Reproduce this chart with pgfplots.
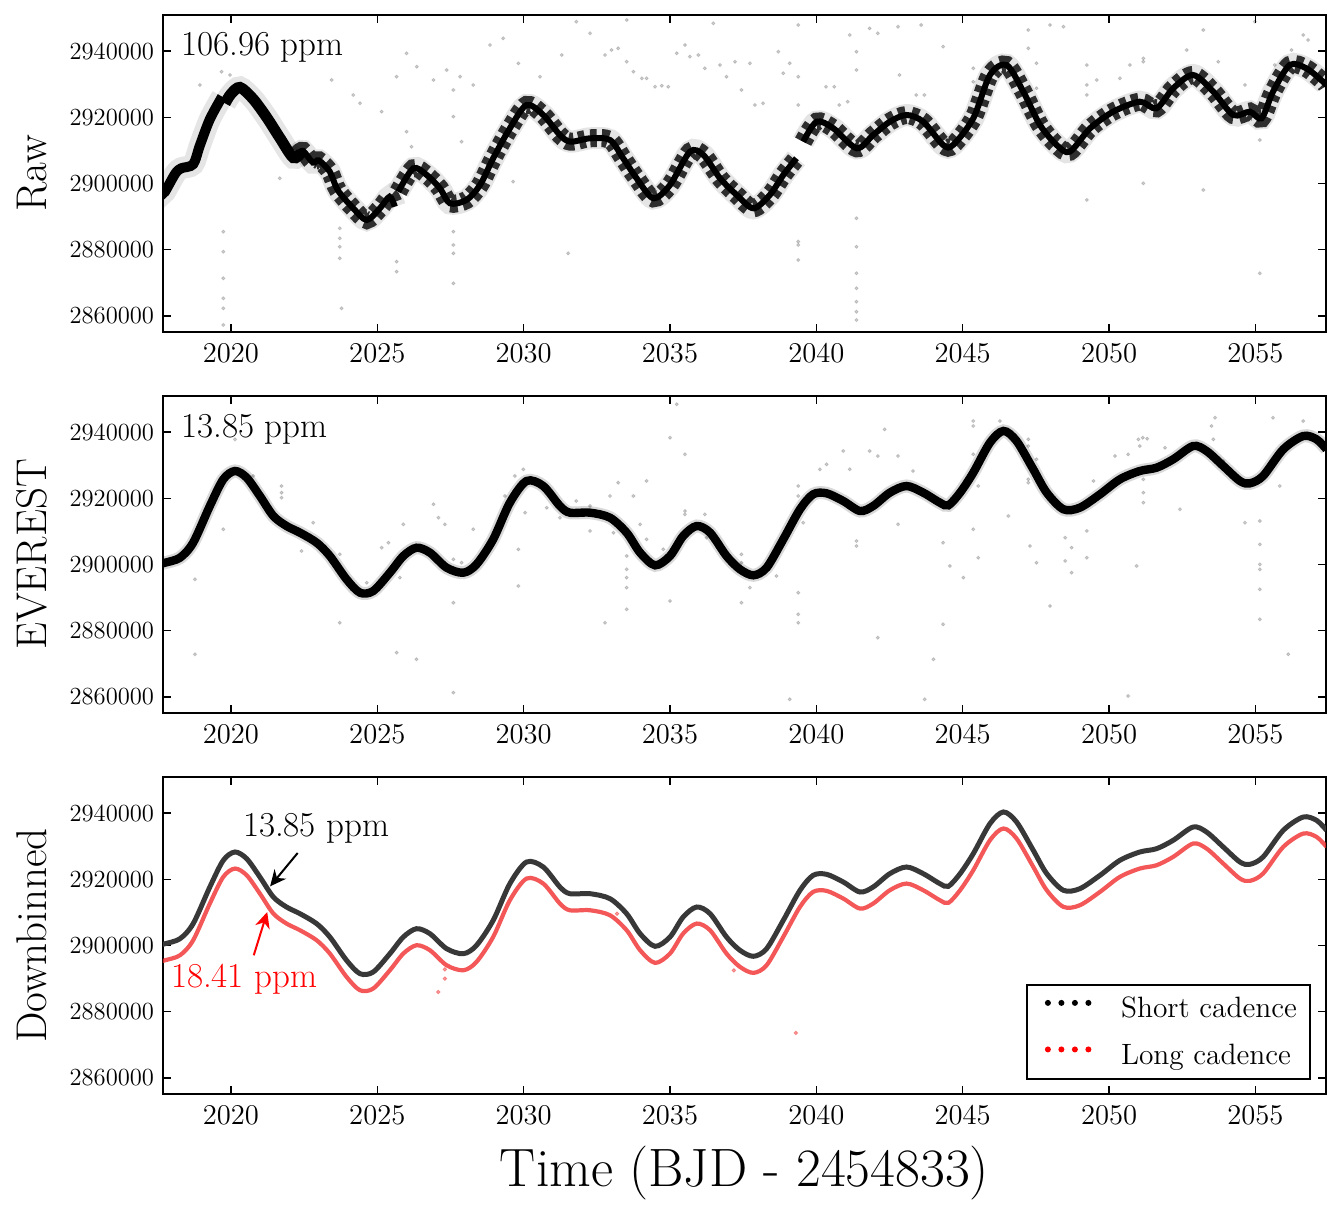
\documentclass[border=0pt]{standalone}
\usepackage{pgfplots}
\usepackage{pgfplotstable}
\pgfplotsset{compat=1.18}
\usetikzlibrary{arrows.meta}

\definecolor{lcred}{RGB}{240,45,45}

\pgfplotstableread{
t v
2017.68 2900400
2017.75 2900540
2018.26 2902050
2018.71 2906580
2019.28 2917660
2019.74 2925720
2020.14 2928230
2020.54 2926200
2020.99 2920680
2021.45 2914640
2021.90 2911620
2022.36 2909600
2022.93 2906580
2023.38 2902570
2023.95 2895530
2024.41 2891490
2024.86 2892000
2025.43 2897520
2025.89 2902570
2026.34 2905070
2026.80 2903560
2027.37 2899030
2027.94 2897520
2028.39 2900050
2028.96 2907600
2029.53 2918670
2030.10 2925210
2030.67 2923700
2031.24 2917660
2031.58 2915640
2032.27 2915640
2032.95 2914130
2033.52 2909600
2033.98 2903560
2034.49 2899750
2035.00 2902570
2035.45 2908610
2035.91 2911620
2036.37 2909600
2036.93 2902570
2037.39 2898550
2037.85 2896740
2038.30 2899030
2038.87 2907600
2039.44 2916660
2039.89 2921190
2040.35 2921490
2040.92 2919170
2041.49 2916150
2041.94 2917660
2042.51 2921690
2043.08 2923700
2043.65 2921690
2044.22 2918670
2044.51 2917870
2044.91 2921690
2045.36 2927720
2045.93 2936780
2046.39 2940320
2046.84 2937280
2047.41 2928740
2047.87 2921690
2048.44 2916660
2049.00 2917150
2049.69 2921190
2050.37 2925720
2051.05 2928230
2051.62 2929220
2052.19 2931760
2052.87 2935770
2053.33 2934260
2053.90 2929740
2054.47 2925210
2054.81 2924510
2055.26 2926720
2055.95 2934760
2056.63 2938780
2057.09 2937770
2057.43 2934760
}\everest

\pgfplotstableread{
t v
2017.68 2895400
2017.75 2895540
2018.26 2897050
2018.71 2901580
2019.28 2912660
2019.74 2920720
2020.14 2923230
2020.54 2921200
2020.99 2915680
2021.45 2909640
2021.90 2906620
2022.36 2904600
2022.93 2901580
2023.38 2897570
2023.95 2890530
2024.41 2886490
2024.86 2887000
2025.43 2892520
2025.89 2897570
2026.34 2900070
2026.80 2898560
2027.37 2894030
2027.94 2892520
2028.39 2895050
2028.96 2902600
2029.53 2913670
2030.10 2920210
2030.67 2918700
2031.24 2912660
2031.58 2910640
2032.27 2910640
2032.95 2909130
2033.52 2904600
2033.98 2898560
2034.49 2894750
2035.00 2897570
2035.45 2903610
2035.91 2906620
2036.37 2904600
2036.93 2897570
2037.39 2893550
2037.85 2891740
2038.30 2894030
2038.87 2902600
2039.44 2911660
2039.89 2916190
2040.35 2916490
2040.92 2914170
2041.49 2911150
2041.94 2912660
2042.51 2916690
2043.08 2918700
2043.65 2916690
2044.22 2913670
2044.51 2912870
2044.91 2916690
2045.36 2922720
2045.93 2931780
2046.39 2935320
2046.84 2932280
2047.41 2923740
2047.87 2916690
2048.44 2911660
2049.00 2912150
2049.69 2916190
2050.37 2920720
2051.05 2923230
2051.62 2924220
2052.19 2926760
2052.87 2930770
2053.33 2929260
2053.90 2924740
2054.47 2920210
2054.81 2919510
2055.26 2921720
2055.95 2929760
2056.63 2933780
2057.09 2932770
2057.43 2929760
}\longcad

\pgfplotstableread{
t v
2017.68 2897200
2017.75 2897530
2018.10 2903000
2018.30 2904580
2018.71 2905800
2018.94 2911500
2019.28 2919400
2019.70 2926200
}\rawA

\pgfplotstableread{
t v
2019.80 2924200
2020.00 2927000
2020.31 2929000
2020.76 2925500
2021.22 2920000
2021.67 2913800
2022.13 2907800
2022.40 2909300
}\rawB

\pgfplotstableread{
t v
2022.30 2909000
2022.47 2909800
2022.80 2906300
2023.00 2907000
2023.38 2903560
2023.65 2898000
2024.18 2892510
2024.64 2888980
2025.09 2892510
2025.42 2896000
2025.60 2893000
}\rawBz

\pgfplotstableread{
t v
2025.72 2897530
2026.23 2904580
2026.69 2902570
2027.14 2898550
2027.48 2894020
2028.05 2895030
2028.51 2899550
2028.96 2907610
2029.53 2916660
2030.10 2923700
2030.67 2920680
2031.24 2914640
2031.60 2912620
2032.27 2913640
2032.95 2913140
2033.40 2907610
2033.86 2901570
2034.43 2895530
2035.00 2899550
2035.68 2909600
2036.14 2908600
2036.71 2901570
2037.28 2896530
2037.85 2892510
2038.41 2896530
2038.87 2902570
2039.32 2907610
}\rawC

\pgfplotstableread{
t v
2039.55 2912620
2040.01 2918660
2040.58 2916660
2041.38 2910630
2041.94 2914640
2042.51 2918660
2043.08 2920680
2043.65 2918660
2044.33 2911620
2044.67 2911620
2045.36 2919680
2045.93 2932750
2046.50 2935770
2047.07 2927720
2047.64 2917660
2048.21 2911620
2048.66 2909600
2049.35 2916660
2050.14 2921690
2051.05 2924700
2051.62 2922700
2052.19 2928740
2052.87 2932750
2053.56 2927720
2054.24 2920680
2054.81 2921690
2055.21 2919680
2055.60 2927720
2056.17 2935770
2056.74 2934760
2057.31 2930730
2057.43 2929500
}\rawD

\pgfplotstableread{
t v
2019.74 2885450
2019.74 2879410
2019.74 2871380
2019.74 2865340
2019.74 2862320
2019.74 2857300
2023.72 2886470
2023.72 2883450
2023.72 2880910
2023.72 2877420
2023.78 2862320
2025.66 2876410
2025.66 2873390
2027.60 2885450
2027.60 2881430
2027.60 2878930
2027.60 2869870
2019.97 2932750
2024.18 2926720
2024.41 2924210
2025.15 2921700
2026.00 2939300
2026.35 2935270
2026.92 2931250
2027.37 2934260
2027.83 2932240
2028.28 2929740
2028.85 2941810
2029.30 2943830
2029.82 2936280
2030.56 2932240
2026.00 2915640
2026.17 2911110
2021.67 2901570
2018.94 2929740
2019.68 2933750
2027.60 2928230
2027.60 2920170
2027.88 2912620
2029.64 2900550
2023.44 2931250
2025.66 2932240
2031.30 2938790
2032.27 2945340
2033.52 2949360
2032.78 2938790
2033.00 2940300
2033.23 2940800
2033.52 2936770
2033.75 2933750
2034.04 2931750
2034.20 2931750
2034.49 2929220
2034.72 2929520
2034.94 2929220
2035.23 2939300
2035.51 2941810
2035.68 2938290
2035.97 2938790
2036.19 2934770
2036.48 2948360
2036.71 2935770
2036.93 2932240
2037.22 2936770
2037.44 2928230
2037.73 2936280
2037.90 2923700
2038.18 2924210
2038.70 2939790
2038.87 2933270
2039.09 2936280
2039.38 2947850
2039.38 2932240
2039.38 2923700
2031.80 2948850
2031.52 2878930
2039.38 2882450
2039.38 2881430
2039.38 2876910
2041.37 2889490
2041.37 2880910
2041.37 2872890
2041.37 2868360
2041.37 2864320
2041.37 2861300
2041.37 2858790
2041.37 2934260
2041.37 2939790
2041.14 2944830
2041.82 2946850
2042.10 2945340
2042.79 2947340
2043.58 2947850
2044.33 2941310
2042.84 2932750
2040.33 2929220
2040.61 2929220
2040.78 2923700
2041.07 2924700
2043.41 2926720
2043.69 2926720
2045.36 2934770
2045.36 2930730
2047.24 2946340
2047.24 2940800
2047.52 2928740
2047.52 2936280
2047.98 2947850
2048.44 2947340
2049.24 2935770
2049.24 2929740
2049.24 2926720
2049.24 2895030
2049.58 2931250
2050.37 2931750
2051.17 2937780
2051.17 2936770
2051.17 2900060
2050.71 2935770
2052.65 2940300
2053.22 2946340
2053.22 2898040
2053.73 2936770
2054.64 2929740
2055.15 2913130
2055.15 2872890
2056.63 2944830
2056.80 2943320
2056.23 2940300
2055.66 2935770
2054.98 2948850
}\rawout

\pgfplotstableread{
t v
2021.73 2923700
2021.73 2921690
2021.73 2920170
2018.77 2895530
2018.77 2872890
2019.74 2910630
2020.14 2937780
2020.76 2926720
2022.81 2912620
2022.41 2904080
2023.72 2903070
2023.72 2882420
2024.64 2894510
2025.38 2906580
2025.15 2905070
2025.77 2896040
2025.66 2873390
2026.34 2871380
2025.89 2912130
2026.92 2918170
2027.09 2914130
2027.31 2912130
2027.60 2901570
2027.60 2899030
2027.60 2888460
2027.60 2861300
2027.88 2900550
2028.28 2910630
2029.36 2920680
2029.70 2926720
2029.82 2904580
2029.82 2893510
2029.99 2928740
2030.05 2915640
2030.79 2917150
2031.24 2914130
2035.23 2948360
2035.00 2938290
2035.51 2933260
2035.51 2916150
2035.51 2915140
2033.52 2902570
2033.52 2898550
2033.52 2896040
2033.52 2893010
2033.52 2886470
2032.78 2882420
2035.00 2889000
2034.20 2925210
2033.23 2924710
2033.75 2920680
2032.95 2920680
2032.27 2917660
2031.80 2919170
2032.27 2910130
2033.07 2909600
2033.98 2912130
2034.20 2907600
2034.77 2904580
2036.19 2915140
2036.25 2908090
2037.44 2903070
2037.44 2900550
2037.73 2893010
2037.44 2888460
2038.64 2896530
2039.09 2859300
2039.38 2891490
2039.38 2884960
2039.38 2882420
2039.38 2923700
2039.38 2920680
2039.55 2912620
2040.12 2928740
2040.35 2930250
2040.92 2934260
2041.14 2928740
2041.37 2907090
2041.37 2905580
2041.82 2934260
2042.10 2932750
2042.33 2940800
2042.79 2932750
2042.79 2912130
2043.30 2928230
2044.33 2906580
2042.10 2877900
2044.00 2871380
2043.70 2859300
2045.36 2943320
2045.36 2941810
2046.27 2943320
2045.36 2933260
2045.53 2923700
2045.36 2910630
2045.53 2902050
2044.56 2899550
2045.02 2896040
2044.33 2881950
2047.24 2937780
2047.24 2935770
2047.24 2925720
2047.24 2924700
2047.30 2905580
2047.52 2931750
2046.56 2914640
2047.52 2900550
2047.98 2887470
2048.50 2908090
2048.50 2901070
2048.72 2905070
2048.72 2897520
2049.24 2910130
2049.24 2902050
2049.47 2925210
2050.20 2932750
2050.65 2933260
2051.00 2937780
2051.05 2935770
2051.15 2938290
2051.30 2937980
2051.17 2925720
2051.17 2921690
2051.17 2918670
2050.94 2899550
2052.42 2916660
2051.91 2935260
2053.50 2941810
2053.62 2944320
2053.56 2937780
2054.64 2912620
2055.15 2913130
2055.15 2906080
2055.15 2900050
2055.15 2898540
2055.15 2892510
2055.15 2883450
2055.60 2944320
2056.63 2943320
2056.12 2872890
2050.65 2860300
2055.83 2923700
2053.90 2931250
}\evout

\pgfplotstableread{
t v
2027.31 2892820
2027.31 2889980
2027.08 2885960
2039.30 2873600
2033.19 2909600
2037.18 2892500
}\redout

\pgfplotsset{
  panel/.style={
    scale only axis, width=581.5pt, height=158.5pt,
    anchor=south west,
    xmin=2017.68, xmax=2057.41, ymin=2855170, ymax=2950870,
    xtick={2020,2025,2030,2035,2040,2045,2050,2055},
    xticklabels={2020,2025,2030,2035,2040,2045,2050,2055},
    ytick={2860000,2880000,2900000,2920000,2940000},
    yticklabels={2860000,2880000,2900000,2920000,2940000},
    scaled ticks=false,
    tick align=inside, xtick pos=both, ytick pos=both,
    major tick length=4pt,
    every tick/.style={black, line width=0.6pt},
    axis line style={line width=1pt},
    x tick label style={font=\fontsize{14.3}{16}\selectfont, anchor=base, inner sep=0pt, yshift=-15.5pt},
    y tick label style={font=\fontsize{12.3}{14}\selectfont, anchor=east, inner sep=0pt, xshift=-4.3pt},
    every axis y label/.style={at={(rel axis cs:0,0.5)}, xshift=-58pt, rotate=90, anchor=base, inner sep=0pt, font=\fontsize{21.5}{24}\selectfont},
    every axis x label/.style={at={(rel axis cs:0.5,0)}, yshift=-46pt, anchor=base, inner sep=0pt, font=\fontsize{27}{30}\selectfont},
    clip=true,
  },
  outl/.style={only marks, mark=*, mark size=0.8pt, black, opacity=0.17},
  teeth/.style={black, opacity=0.8, line width=9pt, smooth, dash pattern=on 3.3pt off 2.5pt},
  core/.style={black, line width=3pt, smooth},
  halo/.style={black, opacity=0.1, line width=11pt, smooth},
  dotsblack/.style={legend image code/.code={\path[draw=none,fill=none] (-2.2pt,0pt) -- (22pt,0pt); \fill[black,draw=none] (1.5pt,3pt) circle[radius=1.5pt] (8.25pt,3pt) circle[radius=1.5pt] (15pt,3pt) circle[radius=1.5pt] (21.75pt,3pt) circle[radius=1.5pt];}},
  dotsred/.style={legend image code/.code={\path[draw=none,fill=none] (-2.2pt,0pt) -- (22pt,0pt); \fill[red,draw=none] (1.5pt,3pt) circle[radius=1.5pt] (8.25pt,3pt) circle[radius=1.5pt] (15pt,3pt) circle[radius=1.5pt] (21.75pt,3pt) circle[radius=1.5pt];}},
}

\begin{document}
\begin{tikzpicture}
\path[use as bounding box] (0pt,0pt) rectangle (670.5pt,608.5pt);

% ---------- Raw ----------
\begin{axis}[panel, at={(81.5pt,442.5pt)}, ylabel={Raw}]
\addplot[outl] table[x=t,y=v] {\rawout};
\addplot[halo] table[x=t,y=v] {\rawA};
\addplot[halo] table[x=t,y=v] {\rawB};
\addplot[halo] table[x=t,y=v] {\rawBz};
\addplot[halo] table[x=t,y=v] {\rawC};
\addplot[halo] table[x=t,y=v] {\rawD};
\addplot[black, line width=5pt, smooth] table[x=t,y=v] {\rawA};
\addplot[black, line width=5.5pt, smooth] table[x=t,y=v] {\rawB};
\addplot[teeth] table[x=t,y=v] {\rawBz};
\addplot[teeth] table[x=t,y=v] {\rawC};
\addplot[teeth] table[x=t,y=v] {\rawD};
\addplot[core] table[x=t,y=v] {\rawBz};
\addplot[core] table[x=t,y=v] {\rawC};
\addplot[core] table[x=t,y=v] {\rawD};
\node[anchor=base west, inner sep=0pt, font=\fontsize{17.5}{19}\selectfont] at (axis cs:2018.29,2938700) {106.96 ppm};
\end{axis}

% ---------- EVEREST ----------
\begin{axis}[panel, at={(81.5pt,252pt)}, ylabel={EVEREST}]
\addplot[outl] table[x=t,y=v] {\evout};
\addplot[black, opacity=0.15, line width=6.5pt, smooth] table[x=t,y=v] {\everest};
\addplot[black, line width=4.2pt, smooth] table[x=t,y=v] {\everest};
\node[anchor=base west, inner sep=0pt, font=\fontsize{17.5}{19}\selectfont] at (axis cs:2018.29,2938400) {13.85 ppm};
\end{axis}

% ---------- Downbinned ----------
\begin{axis}[panel, at={(81.5pt,61.5pt)}, ylabel={Downbinned},
  xlabel={Time (BJD - 2454833)},
  legend style={at={(rel axis cs:1,0)}, anchor=south east, xshift=-7.5pt, yshift=7pt,
    draw=black, line width=0.85pt, fill=white, font=\fontsize{14.7}{17}\selectfont,
    inner xsep=6.6pt, inner ysep=6pt, row sep=11.5pt,
    nodes={inner sep=0pt},
    /tikz/every odd column/.append style={column sep=14.8pt}},
  legend cell align=left]
\addplot[only marks, mark=*, mark size=0.9pt, lcred, opacity=0.45, forget plot] table[x=t,y=v] {\redout};
\addplot[black!78, line width=2.5pt, smooth, forget plot] table[x=t,y=v] {\everest};
\addplot[lcred, opacity=0.8, line width=2.1pt, smooth, forget plot] table[x=t,y=v] {\longcad};
\addlegendimage{dotsblack}
\addlegendentry{Short cadence}
\addlegendimage{dotsred}
\addlegendentry{Long cadence}
\node[anchor=base west, inner sep=0pt, font=\fontsize{17.5}{19}\selectfont] at (axis cs:2020.40,2932970) {13.85 ppm};
\node[anchor=base west, inner sep=0pt, text=red, font=\fontsize{17.5}{19}\selectfont] at (axis cs:2017.94,2887260) {18.41 ppm};
\draw[black, line width=1pt, -{Stealth[length=8pt,width=7.5pt]}] (axis cs:2022.28,2927925) -- (axis cs:2021.34,2917870);
\draw[red, line width=1pt, -{Stealth[length=8pt,width=7.5pt]}] (axis cs:2020.78,2897040) -- (axis cs:2021.24,2910110);
\end{axis}
\end{tikzpicture}
\end{document}
